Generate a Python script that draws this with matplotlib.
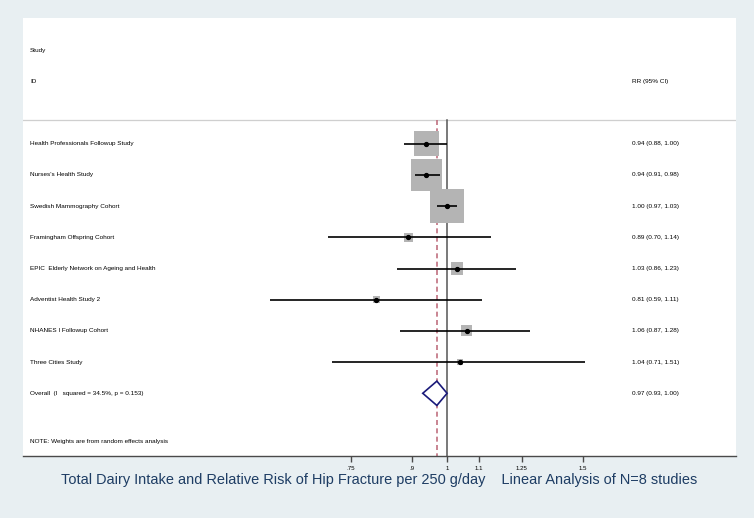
"""
Forest plot: total dairy intake and relative risk of hip fracture (per 250 g/day).
"""

import numpy as np
import matplotlib.pyplot as plt

plt.rcParams['font.family'] = ['Liberation Sans', 'DejaVu Sans']

# Study data
studies = [
    'Health Professionals Followup Study',
    "Nurses's Health Study",
    'Swedish Mammography Cohort',
    'Framingham Offspring Cohort',
    'EPIC  Elderly Network on Ageing and Health',
    'Adventist Health Study 2',
    'NHANES I Followup Cohort',
    'Three Cities Study',
]
rr = [0.94, 0.94, 1.00, 0.89, 1.03, 0.81, 1.06, 1.04]
ci_low = [0.88, 0.91, 0.97, 0.70, 0.86, 0.59, 0.87, 0.71]
ci_high = [1.00, 0.98, 1.03, 1.14, 1.23, 1.11, 1.28, 1.51]
weights = [19.0, 31.2, 36.0, 2.5, 4.5, 1.5, 3.8, 1.3]  # % (random effects)

overall_label = 'Overall  (I   squared = 34.5%, p = 0.153)'
overall_rr, overall_low, overall_high = 0.97, 0.93, 1.00

tick_values = [0.75, 0.9, 1, 1.1, 1.25, 1.5]
tick_labels = ['.75', '.9', '1', '1.1', '1.25', '1.5']

title = ('Total Dairy Intake and Relative Risk of Hip Fracture per 250 g/day'
         '    Linear Analysis of N=8 studies')
note = 'NOTE: Weights are from random effects analysis'

bg = '#e8eff2'
fs = 4.6

fig = plt.figure(figsize=(7.54, 5.18), dpi=100, facecolor=bg)
ax = fig.add_axes([23 / 754, 1 - 456 / 518, 713 / 754, 438 / 518])
ax.set_facecolor('white')

ax.set_xscale('log')
ax.set_xlim(0.282, 2.369)
ax.set_ylim(10.01, -4.03)

rows = np.arange(len(studies))
overall_row = len(studies)
header_line = -0.76
bottom = ax.get_ylim()[0]

# reference lines
ax.axhline(header_line, color='#cfcfcf', lw=0.9, zorder=1)
ax.plot([1, 1], [header_line, bottom], color='#555555', lw=1.1, zorder=1)
ax.plot([overall_rr, overall_rr], [header_line, bottom], color='#c0707f',
        lw=1.2, dashes=(3, 2), zorder=1)

# weight boxes (area proportional to weight)
side_px = 5.67 * np.sqrt(weights)
ax.scatter(rr, rows, s=(side_px * 0.72) ** 2, marker='s', color='#b4b4b4',
           edgecolors='none', zorder=2)

# confidence intervals and point estimates
ax.hlines(rows, ci_low, ci_high, color='black', lw=1.2, zorder=3)
ax.plot(rr, rows, 'o', color='black', ms=2.8, zorder=4)

# overall diamond
h = 0.39
ax.fill([overall_low, overall_rr, overall_high, overall_rr],
        [overall_row, overall_row - h, overall_row, overall_row + h],
        facecolor='white', edgecolor='#1a1a7a', lw=1.2, zorder=4)

# text columns
tr = ax.get_yaxis_transform()
ax.text(0.0098, -3, 'Study', transform=tr, fontsize=fs, va='center')
ax.text(0.0098, -2, 'ID', transform=tr, fontsize=fs, va='center')
ax.text(0.854, -2, 'RR (95% CI)', transform=tr, fontsize=fs, va='center')
for i, name in enumerate(studies):
    ax.text(0.0098, i, name, transform=tr, fontsize=fs, va='center')
    ax.text(0.854, i, f'{rr[i]:.2f} ({ci_low[i]:.2f}, {ci_high[i]:.2f})',
            transform=tr, fontsize=fs, va='center')
ax.text(0.0098, overall_row, overall_label, transform=tr, fontsize=fs, va='center')
ax.text(0.854, overall_row,
        f'{overall_rr:.2f} ({overall_low:.2f}, {overall_high:.2f})',
        transform=tr, fontsize=fs, va='center')
ax.text(0.0098, 9.55, note, transform=tr, fontsize=fs, va='center')

# axes styling
for side in ['top', 'left', 'right']:
    ax.spines[side].set_visible(False)
ax.spines['bottom'].set_color('#4a4a4a')
ax.spines['bottom'].set_linewidth(1.0)
ax.set_yticks([])
ax.set_xticks(tick_values)
ax.set_xticklabels(tick_labels)
ax.xaxis.set_minor_locator(plt.NullLocator())
ax.tick_params(axis='x', length=4.5, width=1.0, color='#4a4a4a',
               labelsize=4.4, pad=3)

fig.text(0.503, 0.074, title, ha='center', va='center', fontsize=10.45,
         color='#1e3d64')

plt.savefig('out.png', dpi=100, facecolor=bg)
plt.close()
